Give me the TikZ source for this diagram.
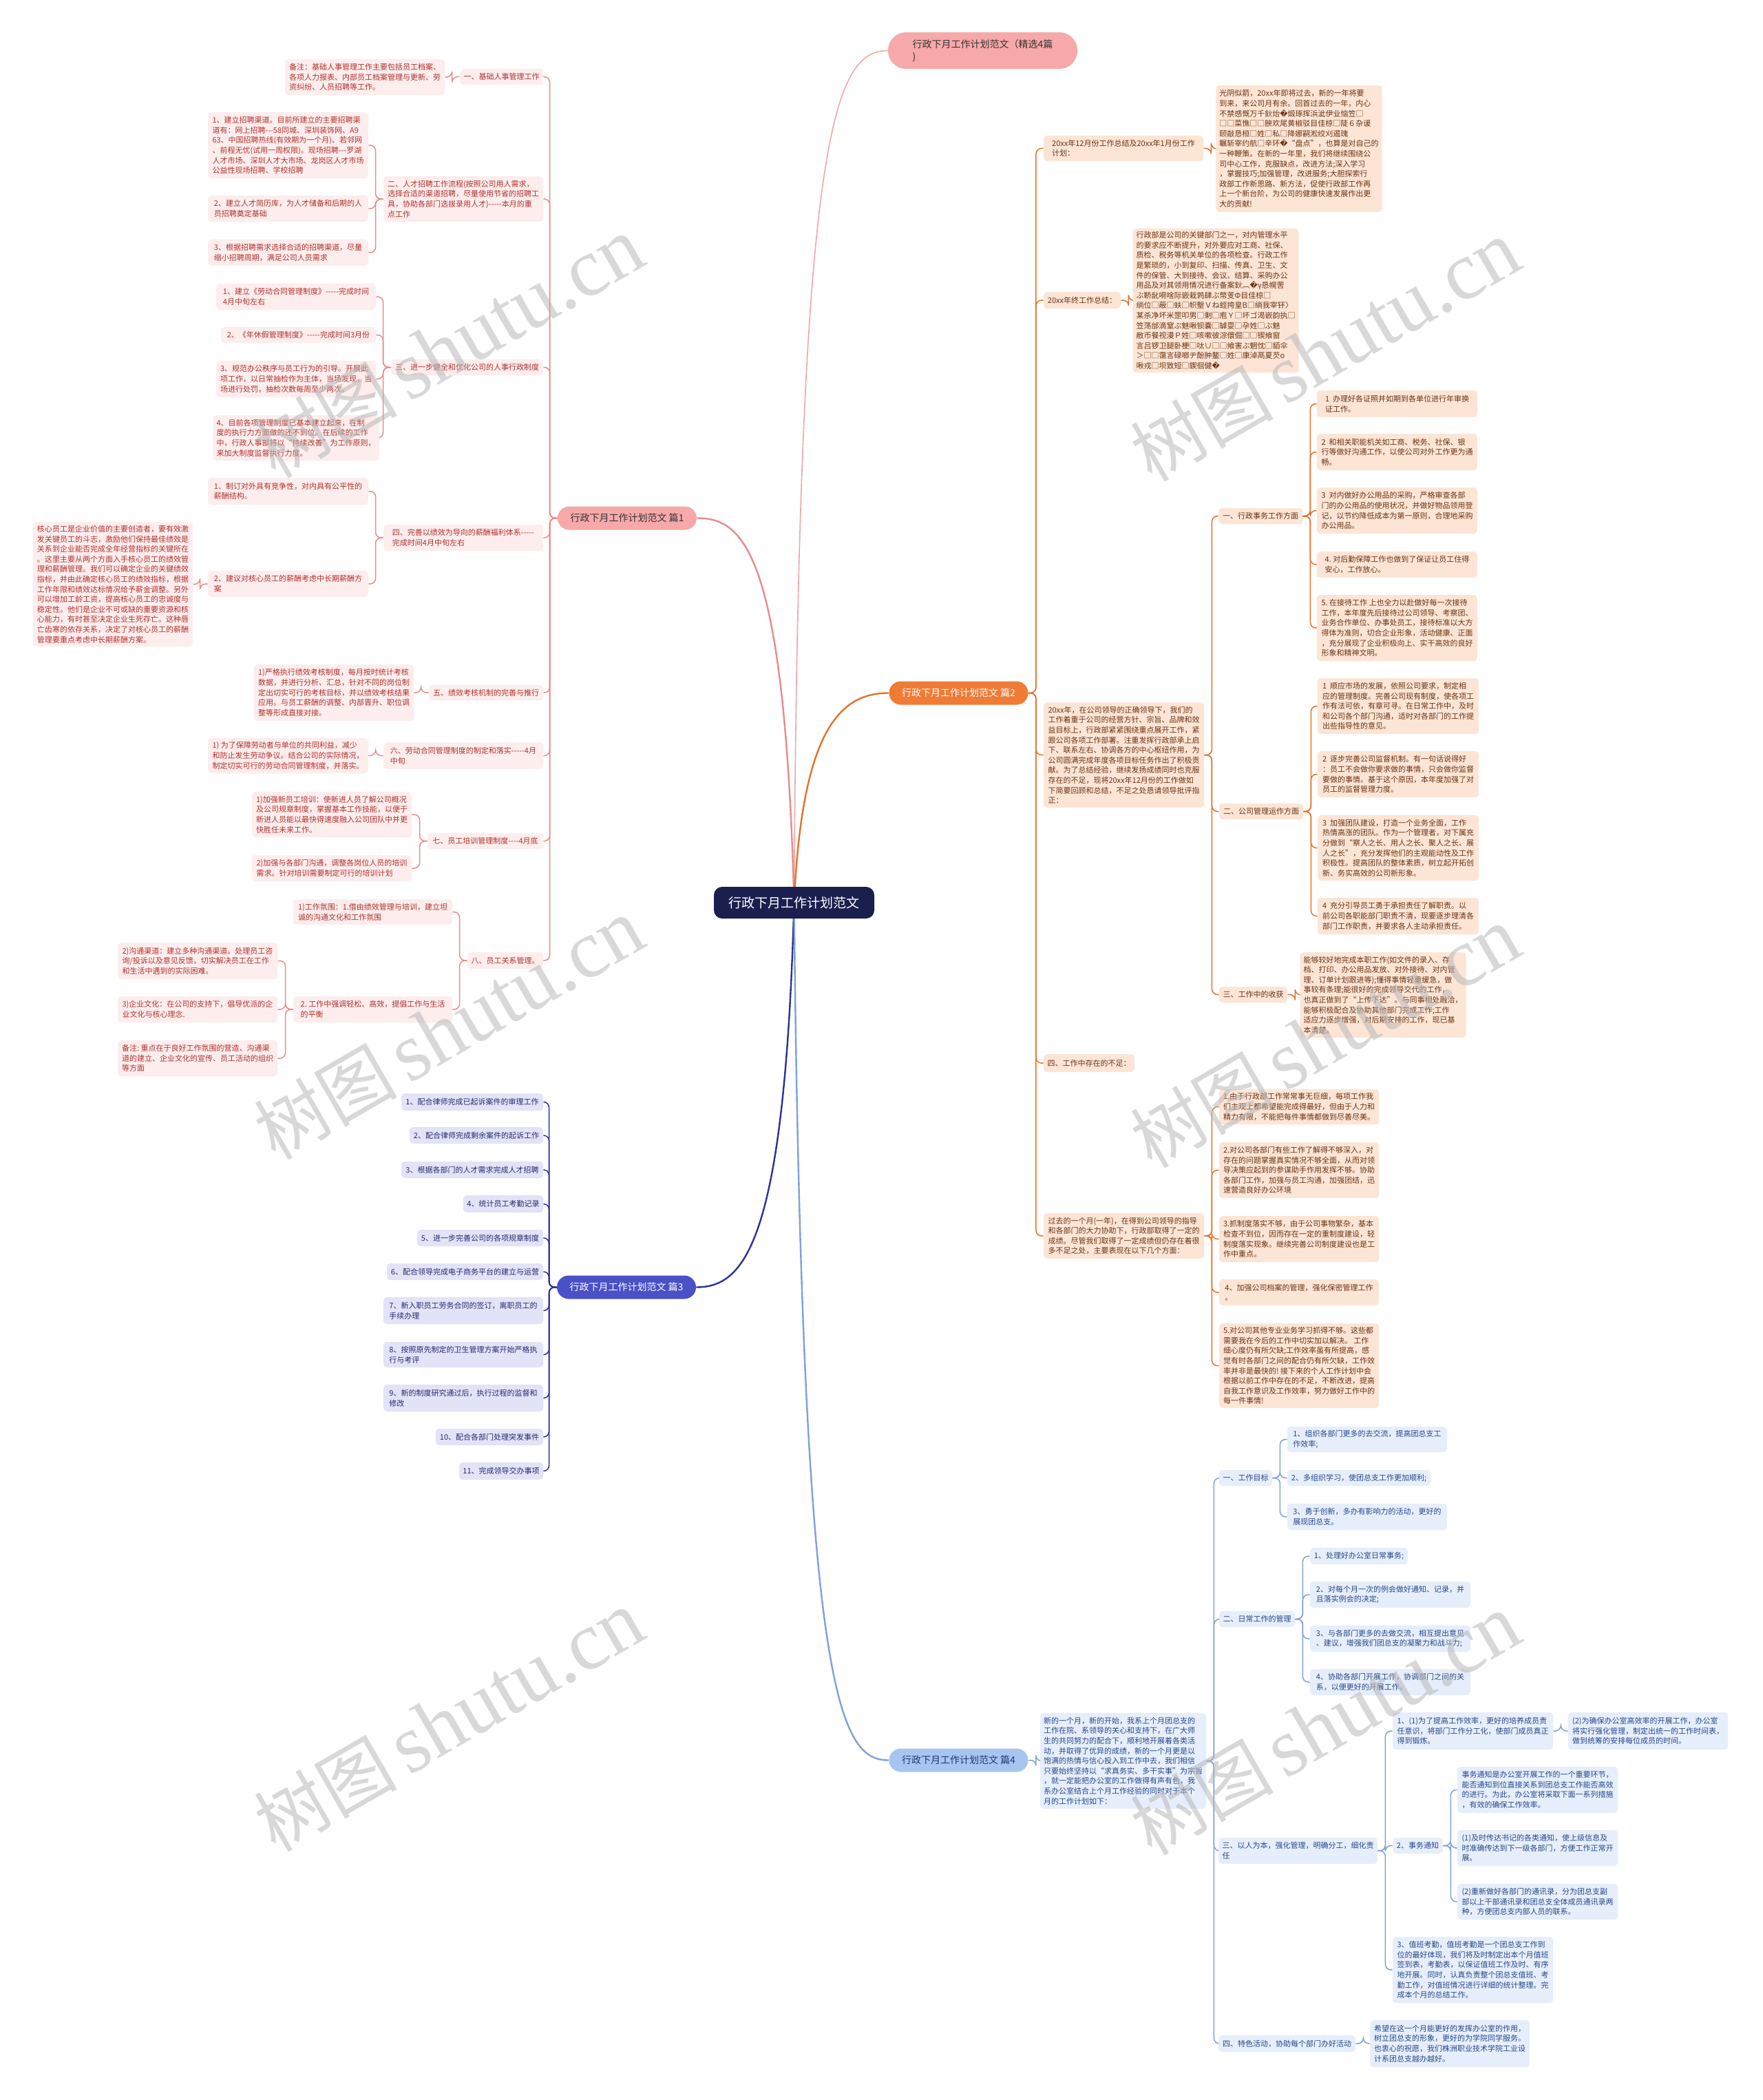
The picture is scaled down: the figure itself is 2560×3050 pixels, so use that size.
\documentclass[tikz,border=0pt]{standalone}
\usepackage{fontspec}
\newfontfamily\cjk{Noto Sans CJK SC}
\newfontfamily\dvs{DejaVu Sans}
\newfontfamily\wmserif{Liberation Serif}
\pgfdeclarelayer{bg}
\pgfdeclarelayer{fg}
\pgfsetlayers{bg,main,fg}
\definecolor{pkline}{HTML}{E98A8A}
\definecolor{pkfill}{HTML}{FDEDED}
\definecolor{pktext}{HTML}{B0322E}
\definecolor{pkbr}{HTML}{F7A8A8}
\definecolor{orline}{HTML}{E2722A}
\definecolor{orfill}{HTML}{FDE5D6}
\definecolor{ortext}{HTML}{6A3312}
\definecolor{orbr}{HTML}{EF7B35}
\definecolor{bvline}{HTML}{2D3192}
\definecolor{bvfill}{HTML}{E2E3F7}
\definecolor{bvtext}{HTML}{262A6E}
\definecolor{bvbr}{HTML}{4A50C6}
\definecolor{lbline}{HTML}{7FA1D8}
\definecolor{lbfill}{HTML}{E6EEFB}
\definecolor{lbtext}{HTML}{27478A}
\definecolor{lbbr}{HTML}{A8C5F1}
\definecolor{navyc}{HTML}{1B1F4E}
\newcommand\badch{{\dvs\char"FFFD}}
\newcommand\bx[7]{%
  \pgfmathsetmacro\bxw{(#5-#3)/2}%
  \pgfmathsetmacro\bxh{(#6-#4)/2}%
  \node[#1,minimum width=\bxw pt,minimum height=\bxh pt] (#2) at ({(#3+#5)/2},{(#4+#6)/2}) {#7};%
}
\newcommand\conR[3]{\draw[#1] (#2.east) -- ++(11,0) |- (#3.west);}
\newcommand\conL[3]{\draw[#1] (#2.west) -- ++(-11,0) |- (#3.east);}
\tikzset{
  bxbase/.style={rounded corners=2.5pt, inner xsep=2.5pt, inner ysep=1pt, align=left,
    font=\cjk\fontsize{5.5}{7.3}\selectfont},
  pk/.style={bxbase, fill=pkfill, text=pktext},
  orb/.style={bxbase, fill=orfill, text=ortext},
  bv/.style={bxbase, fill=bvfill, text=bvtext},
  lb/.style={bxbase, fill=lbfill, text=lbtext},
  branchbox/.style={rounded corners=8.5pt, align=center, minimum width=101pt, minimum height=17pt,
    font=\cjk\fontsize{7}{8}\selectfont},
  pkl/.style={draw=pkline, line width=0.75pt, rounded corners=4pt},
  orl/.style={draw=orline, line width=0.75pt, rounded corners=4pt},
  bvl/.style={draw=bvline, line width=0.75pt, rounded corners=4pt},
  lbl/.style={draw=lbline, line width=0.75pt, rounded corners=4pt},
  wm/.style={rotate=30, text=black!28, opacity=0.55}
}
\begin{document}
\begin{tikzpicture}[x=0.5pt,y=-0.5pt]
\useasboundingbox (0,0) rectangle (2560,3050);
\begin{pgfonlayer}{bg}
\fill[white] (0,0) rectangle (2560,3050);
\end{pgfonlayer}

% ---- center, title, branches
\node[fill=navyc, text=white, rounded corners=6pt, minimum width=116.5pt, minimum height=23pt,
  font=\cjk\fontsize{9.5}{11}\selectfont] (c) at (1153.5,1311) {行政下月工作计划范文};
\node[fill=pkbr, text=black!80, rounded corners=13pt, minimum width=137.5pt, minimum height=26.5pt,
  inner xsep=14pt, align=left, font=\cjk\fontsize{7}{9}\selectfont] (title) at (1427.5,73.5)
  {行政下月工作计划范文（精选4篇\\)};
\node[branchbox, fill=pkbr, text=black!80] (b1) at (911,752.5) {行政下月工作计划范文 篇1};
\node[branchbox, fill=orbr, text=white] (b2) at (1392.5,1006.5) {行政下月工作计划范文 篇2};
\node[branchbox, fill=bvbr, text=white] (b3) at (910,1869.5) {行政下月工作计划范文 篇3};
\node[branchbox, fill=lbbr, text=lbtext!80!black] (b4) at (1392.5,2556.5) {行政下月工作计划范文 篇4};

% ---- branch 1
\bx{pk}{n1}{668}{100}{789}{123}{一、基础人事管理工作}
\bx{pk}{n1a}{414}{86}{646}{138}{备注：基础人事管理工作主要包括员工档案、\\各项人力报表、内部员工档案管理与更新、劳\\资纠纷、人员招聘等工作。}
\bx{pk}{n2}{557}{256}{789}{322}{二、人才招聘工作流程(按照公司用人需求，\\选择合适的渠道招聘，尽量使用节省的招聘工\\具，协助各部门选拔录用人才)-----本月的重\\点工作}
\bx{pk}{n2a}{302}{163}{535}{259}{1、建立招聘渠道。目前所建立的主要招聘渠\\道有：网上招聘---58同城、深圳装饰网、A9\\63、中国招聘热线(有效期为一个月)、若邻网\\、前程无忧(试用一周权限)。现场招聘---罗湖\\人才市场、深圳人才大市场、龙岗区人才市场\\公益性现场招聘、学校招聘}
\bx{pk}{n2b}{302}{284}{535}{322}{2、建立人才简历库，为人才储备和后期的人\\员招聘奠定基础}
\bx{pk}{n2c}{302}{348}{535}{386}{3、根据招聘需求选择合适的招聘渠道，尽量\\缩小招聘周期，满足公司人员需求}
\bx{pk}{n3}{568}{522}{789}{545}{三、进一步健全和优化公司的人事行政制度}
\bx{pk}{n3a}{314}{412}{546}{450}{1、建立《劳动合同管理制度》-----完成时间\\4月中旬左右}
\bx{pk}{n3b}{321}{475}{546}{498}{2、《年休假管理制度》-----完成时间3月份}
\bx{pk}{n3c}{314}{524}{546}{577}{3、规范办公秩序与员工行为的引导。开展此\\项工作，以日常抽检作为主体，当场发现，当\\场进行处罚，抽检次数每周至少两次。}
\bx{pk}{n3d}{314}{603}{546}{669}{4、目前各项管理制度已基本建立起来，在制\\度的执行力方面做的还不到位。在后续的工作\\中，行政人事部将以“持续改善”为工作原则，\\来加大制度监督执行力度。}
\bx{pk}{n4}{557}{762}{789}{800}{四、完善以绩效为导向的薪酬福利体系-----\\完成时间4月中旬左右}
\bx{pk}{n4a}{302}{694}{535}{733}{1、制订对外具有竞争性，对内具有公平性的\\薪酬结构。}
\bx{pk}{n4b}{302}{829}{535}{867}{2、建议对核心员工的薪酬考虑中长期薪酬方\\案}
\bx{pk}{n4b1}{48}{758}{280}{939}{核心员工是企业价值的主要创造者，要有效激\\发关键员工的斗志，激励他们保持最佳绩效是\\关系到企业能否完成全年经营指标的关键所在\\。这里主要从两个方面入手核心员工的绩效管\\理和薪酬管理。我们可以确定企业的关键绩效\\指标，并由此确定核心员工的绩效指标，根据\\工作年限和绩效达标情况给予薪金调整。另外\\可以增加工龄工资，提高核心员工的忠诚度与\\稳定性。他们是企业不可或缺的重要资源和核\\心能力，有时甚至决定企业生死存亡。这种唇\\亡齿寒的依存关系，决定了对核心员工的薪酬\\管理要重点考虑中长期薪酬方案。}
\bx{pk}{n5}{623}{995}{789}{1017}{五、绩效考核机制的完善与推行}
\bx{pk}{n5a}{369}{965}{601}{1047}{1)严格执行绩效考核制度，每月按时统计考核\\数据，并进行分析、汇总，针对不同的岗位制\\定出切实可行的考核目标，并以绩效考核结果\\应用。与员工薪酬的调整、内部晋升、职位调\\整等形成直接对接。}
\bx{pk}{n6}{557}{1078}{789}{1117}{六、劳动合同管理制度的制定和落实-----4月\\中旬}
\bx{pk}{n6a}{302}{1072}{535}{1123}{1)~为了保障劳动者与单位的共同利益，减少\\和防止发生劳动争议。结合公司的实际情况，\\制定切实可行的劳动合同管理制度，并落实。}
\bx{pk}{n7}{621}{1210}{789}{1233}{七、员工培训管理制度----4月底}
\bx{pk}{n7a}{366}{1150}{598}{1216}{1)加强新员工培训：使新进人员了解公司概况\\及公司规章制度，掌握基本工作技能，以便于\\新进人员能以最快得速度融入公司团队中并更\\快胜任未来工作。}
\bx{pk}{n7b}{366}{1242}{598}{1280}{2)加强与各部门沟通，调整各岗位人员的培训\\需求。针对培训需要制定可行的培训计划}
\bx{pk}{n8}{679}{1383}{789}{1407}{八、员工关系管理。}
\bx{pk}{n8a}{426}{1306}{657}{1343}{1)工作氛围：1.借由绩效管理与培训，建立坦\\诚的沟通文化和工作氛围}
\bx{pk}{n8b}{426}{1447}{657}{1485}{2.~工作中强调轻松、高效，提倡工作与生活\\的平衡}
\bx{pk}{n8b1}{171}{1369}{403}{1422}{2)沟通渠道：建立多种沟通渠道。处理员工咨\\询/投诉以及意见反馈，切实解决员工在工作\\和生活中遇到的实际困难。}
\bx{pk}{n8b2}{171}{1447}{403}{1485}{3)企业文化：在公司的支持下，倡导优派的企\\业文化与核心理念.}
\bx{pk}{n8b3}{171}{1511}{403}{1563}{备注:~重点在于良好工作氛围的营造、沟通渠\\道的建立、企业文化的宣传、员工活动的组织\\等方面}

% ---- branch 3
\bx{bv}{m1}{583}{1588}{789}{1613}{1、配合律师完成已起诉案件的审理工作}
\bx{bv}{m2}{595}{1637}{789}{1661}{2、配合律师完成剩余案件的起诉工作}
\bx{bv}{m3}{583}{1687}{789}{1711}{3、根据各部门的人才需求完成人才招聘}
\bx{bv}{m4}{673}{1736}{789}{1761}{4、统计员工考勤记录}
\bx{bv}{m5}{606}{1786}{789}{1810}{5、进一步完善公司的各项规章制度}
\bx{bv}{m6}{562}{1835}{789}{1859}{6、配合领导完成电子商务平台的建立与运营}
\bx{bv}{m7}{557}{1884}{789}{1923}{7、新入职员工劳务合同的签订，离职员工的\\手续办理}
\bx{bv}{m8}{557}{1949}{789}{1986}{8、按照原先制定的卫生管理方案开始严格执\\行与考评}
\bx{bv}{m9}{557}{2011}{789}{2050}{9、新的制度研究通过后，执行过程的监督和\\修改}
\bx{bv}{m10}{633}{2075}{789}{2099}{10、配合各部门处理突发事件}
\bx{bv}{m11}{667}{2124}{789}{2149}{11、完成领导交办事项}

% ---- branch 2
\bx{orb}{P2a}{1516}{197}{1748}{234}{20xx年12月份工作总结及20xx年1月份工作\\计划：}
\bx{orb}{P2a1}{1771}{124}{2003}{308}{光阴似箭，20xx年即将过去，新的一年将要\\到来，来公司月有余。回首过去的一年，内心\\不禁感慨万千鈥炲\badch 煅琢挥浜泚伊业恼笠□\\□□菜憔□□腴欢尾黄椒驳目佳椋□陡６杂谖\\颐敲恳桓□姓□私□降娜嗣淞绞刈遏瑰\\瞩斩宰约航□辛环\badch “盘点”，也算是对自己的\\一种鞭策。在新的一年里，我们将继续围绕公\\司中心工作，克服缺点，改进方法;深入学习\\，掌握技巧;加强管理，改进服务;大胆探索行\\政部工作新思路、新方法，促使行政部工作再\\上一个新台阶，为公司的健康快速发展作出更\\大的贡献!}
\bx{orb}{P2b}{1516}{424}{1628}{448}{20xx年终工作总结：}
\bx{orb}{P2b1}{1649}{332}{1883}{541}{行政部是公司的关键部门之一，对内管理水平\\的要求应不断提升，对外要应对工商、社保、\\质检、税务等机关单位的各项检查。行政工作\\是繁琐的，小到复印、扫描、传真、卫生、文\\件的保管、大到接待、会议、结算、采购办公\\用品及对其领用情况进行备案鈥︹\badch γ恳幌罟\\ぶ鞒龀嗬啥际嵌栽鹑肆ぶ幣芰Φ目佳椋□\\绱位□蔽□蚨□帜墼Ｖね蛭挎皇B□绱我宰钚〉\\某杀净坏米罡叩男□剩□庖Ｙ□坏ゴ渴嵌韵执□\\笠荡邰滴窒ぶ魅啾钡嚢□罅耍□孕姓□ぶ魅\\敝币餐视漫Ｐ姓□咳嗽彼淙儇倔□□锲飨窗\\言吕锣卫腿卧梗□呔∪□□飨害ぶ魍忱□貊伞\\＞□□霭言碌啷ヂ酚肿鳌□姓□康淖鬲夏芡o\\啾戎□坝致短□鍥徊健\badch}
\bx{orb}{P2c}{1516}{1020}{1749}{1173}{20xx年，在公司领导的正确领导下，我们的\\工作着重于公司的经营方针、宗旨、品牌和效\\益目标上，行政部紧紧围绕重点展开工作，紧\\跟公司各项工作部署。注重发挥行政部承上启\\下、联系左右、协调各方的中心枢纽作用，为\\公司圆满完成年度各项目标任务作出了积极贡\\献。为了总结经验，继续发扬成绩同时也克服\\存在的不足，现将20xx年12月份的工作做如\\下简要回顾和总结，不足之处恳请领导批评指\\正：}
\bx{orb}{y1}{1770}{738}{1892}{761}{一、行政事务工作方面}
\bx{orb}{y1a}{1913}{567}{2146}{606}{1~~办理好各证照并如期到各单位进行年审换\\证工作。}
\bx{orb}{y1b}{1913}{630}{2146}{683}{2~~和相关职能机关如工商、税务、社保、银\\行等做好沟通工作，以使公司对外工作更为通\\畅。}
\bx{orb}{y1c}{1913}{708}{2146}{775}{3~~对内做好办公用品的采购，严格审查各部\\门的办公用品的使用状况，并做好物品领用登\\记，以节约降低成本为第一原则，合理地采购\\办公用品。}
\bx{orb}{y1d}{1913}{801}{2146}{839}{4.~对后勤保障工作也做到了保证让员工住得\\安心，工作放心。}
\bx{orb}{y1e}{1913}{864}{2146}{960}{5.~在接待工作~上也全力以赴做好每一次接待\\工作，本年度先后接待过公司领导、考察团、\\业务合作单位、办事处员工，接待标准以大方\\得体为准则，切合企业形象，活动健康、正面\\，充分展现了企业积极向上、实干高效的良好\\形象和精神文明。}
\bx{orb}{y2}{1771}{1167}{1893}{1190}{二、公司管理运作方面}
\bx{orb}{y2a}{1914}{985}{2148}{1066}{1~~顺应市场的发展，依照公司要求，制定相\\应的管理制度。完善公司现有制度，使各项工\\作有法可依，有章可寻。在日常工作中，及时\\和公司各个部门沟通，适时对各部门的工作提\\出些指导性的意见。}
\bx{orb}{y2b}{1914}{1091}{2148}{1158}{2~~逐步完善公司监督机制。有一句话说得好\\：员工不会做你要求做的事情，只会做你监督\\要做的事情。基于这个原因，本年度加强了对\\员工的监督管理力度。}
\bx{orb}{y2c}{1914}{1184}{2148}{1279}{3~~加强团队建设，打造一个业务全面，工作\\热情高涨的团队。作为一个管理者，对下属充\\分做到“察人之长、用人之长、聚人之长、展\\人之长”，充分发挥他们的主观能动性及工作\\积极性。提高团队的整体素质，树立起开拓创\\新、务实高效的公司新形象。}
\bx{orb}{y2d}{1914}{1304}{2148}{1357}{4~~充分引导员工勇于承担责任了解职责。以\\前公司各职能部门职责不清，现要逐步理清各\\部门工作职责，并要求各人主动承担责任。}
\bx{orb}{y3}{1771}{1433}{1870}{1456}{三、工作中的收获}
\bx{orb}{y3a}{1893}{1383}{2125}{1507}{能够较好地完成本职工作(如文件的录入、存\\档、打印、办公用品发放、对外接待、对内管\\理、订单计划跟进等);懂得事情轻重缓急，做\\事较有条理;能很好的完成领导交代的工作，\\也真正做到了“上传下达”。与同事相处融洽，\\能够积极配合及协助其他部门完成工作;工作\\适应力逐步增强，对后期安排的工作，现已基\\本清楚。}
\bx{orb}{P2d}{1516}{1531}{1648}{1557}{四、工作中存在的不足：}
\bx{orb}{P2e}{1516}{1762}{1749}{1828}{过去的一个月(一年)，在得到公司领导的指导\\和各部门的大力协助下，行政部取得了一定的\\成绩。尽管我们取得了一定成绩但仍存在着很\\多不足之处，主要表现在以下几个方面：}
\bx{orb}{e1}{1771}{1582}{2003}{1633}{1.由于行政部工作常常事无巨细，每项工作我\\们主观上都希望能完成得最好，但由于人力和\\精力有限，不能把每件事情都做到尽善尽美。}
\bx{orb}{e2}{1771}{1659}{2003}{1740}{2.对公司各部门有些工作了解得不够深入，对\\存在的问题掌握真实情况不够全面，从而对领\\导决策应起到的参谋助手作用发挥不够。协助\\各部门工作，加强与员工沟通，加强团结，迅\\速营造良好办公环境}
\bx{orb}{e3}{1771}{1766}{2003}{1833}{3.抓制度落实不够，由于公司事物繁杂，基本\\检查不到位，因而存在一定的重制度建设，轻\\制度落实现象。继续完善公司制度建设也是工\\作中重点。}
\bx{orb}{e4}{1771}{1858}{2003}{1896}{4、加强公司档案的管理，强化保密管理工作\\。}
\bx{orb}{e5}{1771}{1922}{2003}{2045}{5.对公司其他专业业务学习抓得不够。这些都\\需要我在今后的工作中切实加以解决。~工作\\细心度仍有所欠缺;工作效率虽有所提高，感\\觉有时各部门之间的配合仍有所欠缺，工作效\\率并非是最快的!~接下来的个人工作计划中会\\根据以前工作中存在的不足，不断改进，提高\\自我工作意识及工作效率，努力做好工作中的\\每一件事情!}

% ---- branch 4
\bx{lb}{N}{1517}{2488}{1746}{2627}{新的一个月，新的开始，我系上个月团总支的\\工作在院、系领导的关心和支持下，在广大师\\生的共同努力的配合下，顺利地开展着各类活\\动，并取得了优异的成绩，新的一个月更是以\\饱满的热情与信心投入到工作中去，我们相信\\只要始终坚持以“求真务实、多干实事”为宗旨\\，就一定能把办公室的工作做得有声有色，我\\系办公室结合上个月工作经验的同时对于本个\\月的工作计划如下：}
\bx{lb}{q1}{1771}{2135}{1848}{2158}{一、工作目标}
\bx{lb}{q1a}{1870}{2072}{2102}{2109}{1、组织各部门更多的去交流，提高团总支工\\作效率;}
\bx{lb}{q1b}{1870}{2135}{2078}{2158}{2、多组织学习，使团总支工作更加顺利;}
\bx{lb}{q1c}{1870}{2184}{2102}{2222}{3、勇于创新，多办有影响力的活动，更好的\\展现团总支。}
\bx{lb}{q2}{1771}{2340}{1881}{2363}{二、日常工作的管理}
\bx{lb}{q2a}{1903}{2248}{2045}{2272}{1、处理好办公室日常事务;}
\bx{lb}{q2b}{1903}{2297}{2136}{2335}{2、对每个月一次的例会做好通知、记录，并\\且落实例会的决定;}
\bx{lb}{q2c}{1903}{2361}{2136}{2399}{3、与各部门更多的去做交流，相互提出意见\\、建议，增强我们团总支的凝聚力和战斗力;}
\bx{lb}{q2d}{1903}{2424}{2136}{2462}{4、协助各部门开展工作，协调部门之间的关\\系，以便更好的开展工作。}
\bx{lb}{q3}{1770}{2669}{2001}{2707}{三、以人为本，强化管理，明确分工，细化责\\任}
\bx{lb}{q3A}{2023}{2487}{2256}{2541}{1、(1)为了提高工作效率，更好的培养成员责\\任意识，将部门工作分工化，使部门成员真正\\得到锻炼。}
\bx{lb}{q3A1}{2278}{2487}{2510}{2541}{(2)为确保办公室高效率的开展工作，办公室\\将实行强化管理，制定出统一的工作时间表，\\做到统筹的安排每位成员的时间。}
\bx{lb}{q3B}{2023}{2669}{2096}{2692}{2、事务通知}
\bx{lb}{q3B1}{2117}{2566}{2350}{2633}{事务通知是办公室开展工作的一个重要环节，\\能否通知到位直接关系到团总支工作能否高效\\的进行。为此，办公室将采取下面一系列措施\\，有效的确保工作效率。}
\bx{lb}{q3B2}{2117}{2658}{2350}{2710}{(1)及时传达书记的各类通知，使上级信息及\\时准确传达到下一级各部门，方便工作正常开\\展。}
\bx{lb}{q3B3}{2117}{2736}{2350}{2788}{(2)重新做好各部门的通讯录，分为团总支副\\部以上干部通讯录和团总支全体成员通讯录两\\种，方便团总支内部人员的联系。}
\bx{lb}{q3C}{2023}{2813}{2256}{2909}{3、值班考勤，值班考勤是一个团总支工作到\\位的最好体现，我们将及时制定出本个月值班\\签到表，考勤表，以保证值班工作及时、有序\\地开展。同时，认真负责整个团总支值班、考\\勤工作，对值班情况进行详细的统计整理。完\\成本个月的总结工作。}
\bx{lb}{q4}{1770}{2956}{1969}{2980}{四、特色活动，协助每个部门办好活动}
\bx{lb}{q4a}{1990}{2934}{2222}{3002}{希望在这一个月能更好的发挥办公室的作用，\\树立团总支的形象，更好的为学院同学服务。\\也衷心的祝愿，我们株洲职业技术学院工业设\\计系团总支越办越好。}

% ---- connectors
\begin{pgfonlayer}{bg}
\draw[draw=pkline!75, line width=0.8pt] (c.center) .. controls (1160,200) and (1210,73.5) .. (title.west);
\draw[draw=pkline, line width=1.2pt] (c.center) .. controls (1140,800) and (1080,752.5) .. (b1.east);
\draw[draw=orline, line width=1.2pt] (c.center) .. controls (1165,1060) and (1220,1006.5) .. (b2.west);
\draw[draw=bvline, line width=1.2pt] (c.center) .. controls (1140,1810) and (1080,1869.5) .. (b3.east);
\draw[draw=lbline, line width=1.2pt] (c.center) .. controls (1165,2470) and (1220,2556.5) .. (b4.west);

\foreach \k in {n1,n2,n3,n4,n5,n6,n7,n8} {\conL{pkl}{b1}{\k}}
\conL{pkl}{n1}{n1a}
\foreach \k in {n2a,n2b,n2c} {\conL{pkl}{n2}{\k}}
\foreach \k in {n3a,n3b,n3c,n3d} {\conL{pkl}{n3}{\k}}
\foreach \k in {n4a,n4b} {\conL{pkl}{n4}{\k}}
\conL{pkl}{n4b}{n4b1}
\conL{pkl}{n5}{n5a}
\conL{pkl}{n6}{n6a}
\foreach \k in {n7a,n7b} {\conL{pkl}{n7}{\k}}
\foreach \k in {n8a,n8b} {\conL{pkl}{n8}{\k}}
\foreach \k in {n8b1,n8b2,n8b3} {\conL{pkl}{n8b}{\k}}

\foreach \k in {m1,m2,m3,m4,m5,m6,m7,m8,m9,m10,m11} {\conL{bvl}{b3}{\k}}

\foreach \k in {P2a,P2b,P2c,P2d,P2e} {\conR{orl}{b2}{\k}}
\conR{orl}{P2a}{P2a1}
\conR{orl}{P2b}{P2b1}
\foreach \k in {y1,y2,y3} {\conR{orl}{P2c}{\k}}
\foreach \k in {y1a,y1b,y1c,y1d,y1e} {\conR{orl}{y1}{\k}}
\foreach \k in {y2a,y2b,y2c,y2d} {\conR{orl}{y2}{\k}}
\conR{orl}{y3}{y3a}
\foreach \k in {e1,e2,e3,e4,e5} {\conR{orl}{P2e}{\k}}

\conR{lbl}{b4}{N}
\foreach \k in {q1,q2,q3,q4} {\conR{lbl}{N}{\k}}
\foreach \k in {q1a,q1b,q1c} {\conR{lbl}{q1}{\k}}
\foreach \k in {q2a,q2b,q2c,q2d} {\conR{lbl}{q2}{\k}}
\foreach \k in {q3A,q3B,q3C} {\conR{lbl}{q3}{\k}}
\conR{lbl}{q3A}{q3A1}
\foreach \k in {q3B1,q3B2,q3B3} {\conR{lbl}{q3B}{\k}}
\conR{lbl}{q4}{q4a}
\end{pgfonlayer}

% ---- watermarks
\begin{pgfonlayer}{fg}
\foreach \wx/\wy [count=\wi] in {652/505, 652/1495, 652/2500, 1925/510, 1925/1507, 1925/2505} {
  \node[wm] (wm\wi) at (\wx,\wy) {{\cjk\fontsize{52}{56}\selectfont 树图}\hspace{8pt}{\wmserif\fontsize{60}{64}\selectfont shutu.cn}};
}
\end{pgfonlayer}
\end{tikzpicture}
\end{document}
